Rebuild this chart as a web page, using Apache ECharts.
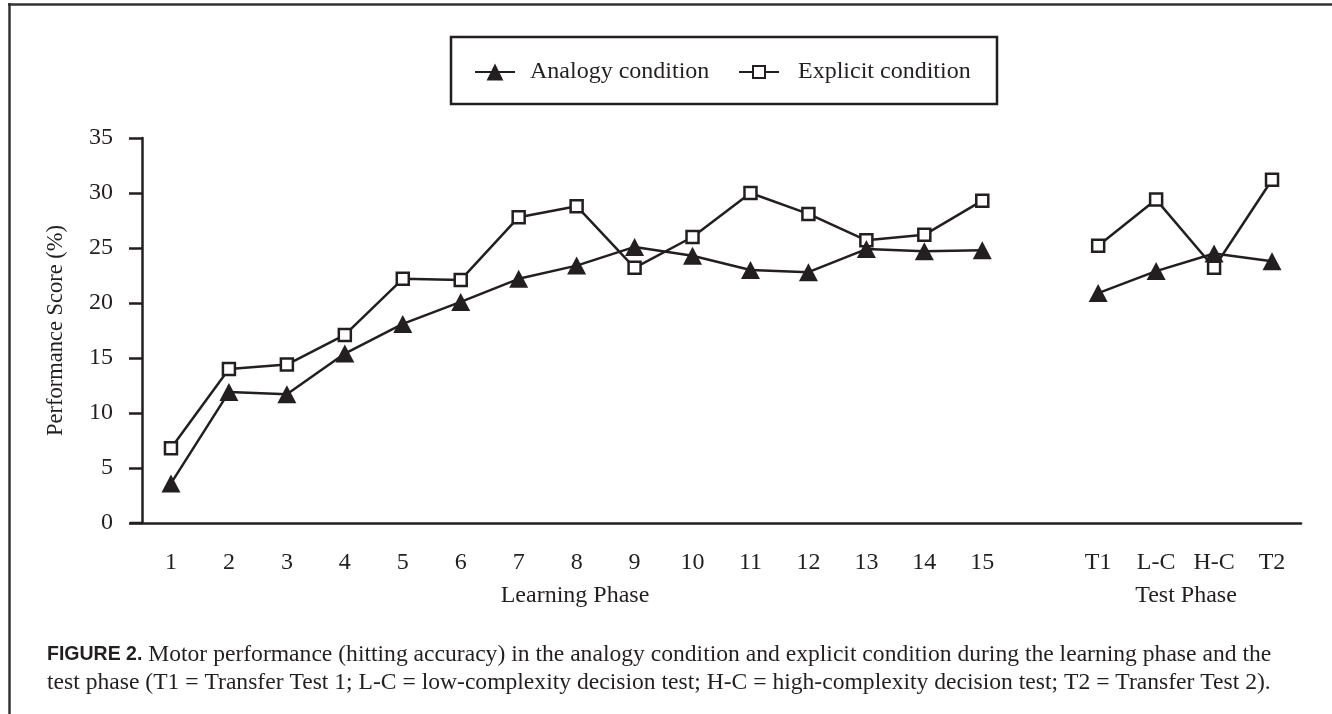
<!DOCTYPE html>
<html>
<head>
<meta charset="utf-8">
<script src="https://cdn.jsdelivr.net/npm/echarts@6/dist/echarts.min.js"></script>
<style>
  html, body { margin: 0; padding: 0; background: #fff; }
  #main { width: 1332px; height: 714px; }
</style>
</head>
<body>
<div id="main"></div>
<script>
// sessions 1-15, a gap, then the four tests
const categories = ['1', '2', '3', '4', '5', '6', '7', '8', '9', '10', '11', '12', '13', '14', '15', '', 'T1', 'L-C', 'H-C', 'T2'];
const analogy = [3.6, 11.9, 11.7, 15.4, 18.1, 20.1, 22.2, 23.4, 25.1, 24.3, 23.0, 22.8, 24.9, 24.7, 24.8, '-', 20.9, 22.9, 24.5, 23.8];
const explicit = [6.8, 14.0, 14.4, 17.1, 22.2, 22.1, 27.8, 28.8, 23.2, 26.0, 30.0, 28.1, 25.7, 26.2, 29.3, '-', 25.2, 29.4, 23.2, 31.2];
const yTicks = [0, 5, 10, 15, 20, 25, 30, 35];

const ink = '#231f20';
const serif = "'Liberation Serif', 'Times New Roman', serif";

const caption1 = 'Motor performance (hitting accuracy) in the analogy condition and explicit condition during the learning phase and the';
const caption2 = 'test phase (T1 = Transfer Test 1; L-C = low-complexity decision test; H-C = high-complexity decision test; T2 = Transfer Test 2).';

let chart = echarts.init(document.getElementById('main'));

// one legend per series so each marker can get its own size
const legendText = { fontFamily: serif, fontSize: 24, color: ink, lineHeight: 24 };

let options = {
  backgroundColor: '#fff',
  animation: false,
  textStyle: { fontFamily: serif, color: ink },
  legend: [
    {
      left: 474,
      top: 60,
      padding: 0,
      itemWidth: 40,
      itemHeight: 21,
      textStyle: { ...legendText, padding: [0, 0, 0, 10] },
      data: ['Analogy condition']
    },
    {
      left: 738,
      top: 60,
      padding: 0,
      itemWidth: 40,
      itemHeight: 15,
      textStyle: { ...legendText, padding: [0, 0, 0, 14] },
      data: ['Explicit condition']
    }
  ],
  grid: { left: 142, right: 31, top: 138, bottom: 191 },
  xAxis: {
    type: 'category',
    data: categories,
    boundaryGap: true,
    axisLine: { lineStyle: { color: ink, width: 2.5 } },
    axisTick: {
      alignWithLabel: true,
      length: 14,
      lineStyle: { color: ink, width: 2.5 },
      interval: (i, v) => v !== ''
    },
    axisLabel: { interval: 0, margin: 28, fontFamily: serif, fontSize: 24, color: ink }
  },
  yAxis: {
    type: 'value',
    min: yTicks[0],
    max: yTicks[yTicks.length - 1],
    interval: 5,
    name: 'Performance Score (%)',
    nameLocation: 'middle',
    nameGap: 74,
    nameTextStyle: { fontFamily: serif, fontSize: 22.5, color: ink },
    splitLine: { show: false },
    axisLine: { show: true, lineStyle: { color: ink, width: 2.5 } },
    axisTick: { show: true, length: 13, lineStyle: { color: ink, width: 2.5 } },
    axisLabel: { margin: 29, fontFamily: serif, fontSize: 24, color: ink }
  },
  series: [
    {
      name: 'Analogy condition',
      type: 'line',
      z: 3,
      data: analogy,
      connectNulls: false,
      symbol: 'triangle',
      symbolSize: [19, 18],
      lineStyle: { color: ink, width: 2.5 },
      itemStyle: { color: ink, borderWidth: 0 }
    },
    {
      name: 'Explicit condition',
      type: 'line',
      z: 2,
      data: explicit,
      connectNulls: false,
      symbol: 'rect',
      symbolSize: 12,
      lineStyle: { color: ink, width: 2.5 },
      itemStyle: { color: '#fff', borderColor: ink, borderWidth: 2.5 }
    }
  ],
  graphic: {
    elements: [
      // figure frame (left and top edges)
      { type: 'line', shape: { x1: 9.5, y1: 3, x2: 9.5, y2: 714 }, style: { stroke: '#333', lineWidth: 2.5 } },
      { type: 'line', shape: { x1: 8, y1: 4.5, x2: 1332, y2: 4.5 }, style: { stroke: '#333', lineWidth: 2.5 } },
      // box round the two legends
      { type: 'rect', shape: { x: 451, y: 37, width: 546, height: 67 }, style: { fill: 'none', stroke: ink, lineWidth: 2.5 } },
      // x axis runs a little past the y axis
      { type: 'line', shape: { x1: 130, y1: 523, x2: 142, y2: 523 }, style: { stroke: ink, lineWidth: 2.5 } },
      { type: 'text', x: 575, y: 596, style: { text: 'Learning Phase', font: "24px " + serif, fill: ink, align: 'center', verticalAlign: 'middle' } },
      { type: 'text', x: 1186, y: 596, style: { text: 'Test Phase', font: "24px " + serif, fill: ink, align: 'center', verticalAlign: 'middle' } },
      {
        type: 'text', x: 47, y: 641,
        style: {
          text: '{b|FIGURE 2.} ' + caption1 + '\n' + caption2,
          fontFamily: serif, fontSize: 23.6, lineHeight: 28, fill: ink,
          rich: { b: { fontFamily: "'Liberation Sans', Arial, sans-serif", fontWeight: 'bold', fontSize: 19.5, lineHeight: 28, fill: ink } }
        }
      }
    ]
  }
};

chart.setOption(options);
window.addEventListener('resize', () => chart.resize());
</script>
</body>
</html>
